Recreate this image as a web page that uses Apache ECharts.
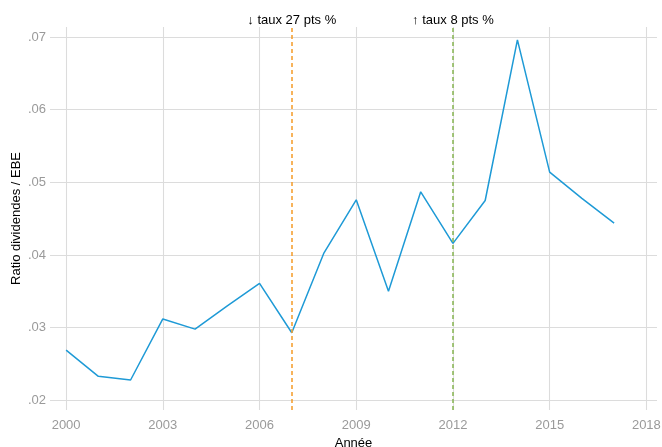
<!DOCTYPE html>
<html>
<head>
<meta charset="utf-8">
<script src="https://cdn.jsdelivr.net/npm/echarts@6/dist/echarts.min.js"></script>
<style>
html,body{margin:0;padding:0;background:#fff;}
#chart{width:662px;height:447px;}
</style>
</head>
<body>
<div id="chart"></div>
<script>
// données
var annees=[2000,2001,2002,2003,2004,2005,2006,2007,2008,2009,2010,2011,2012,2013,2014,2015,2016,2017];
var ratio=[0.0269,0.0233,0.0228,0.0312,0.0298,0.0330,0.0361,0.0293,0.0403,0.0476,0.0350,0.0487,0.0416,0.0475,0.0696,0.0514,0.0478,0.0444];
var xTicks=[2000,2003,2006,2009,2012,2015,2018];
var yTicks=[0.02,0.03,0.04,0.05,0.06,0.07];
var reformes=[2007,2012];
var reformesTxt=['↓ taux 27 pts %','↑ taux 8 pts %'];
var reformesCol=['#F5A133','#8DB85A'];

var font='"Liberation Sans", Arial, sans-serif';
var chart=echarts.init(document.getElementById('chart'));

var lignes=[];
for(var i=0;i<reformes.length;i++){
	lignes.push({
		xAxis:reformes[i],
		lineStyle:{color:reformesCol[i],type:[4,3],width:1.6},
		label:{formatter:reformesTxt[i]}
	});
}

var option={
	animation:false,
	grid:{left:50,right:5,top:27,bottom:37,containLabel:false,outerBoundsMode:'none'},
	xAxis:{
		type:'value',
		min:1999.5,
		max:2018.33,
		name:'Année',
		nameLocation:'middle',
		nameGap:22,
		nameTextStyle:{color:'#000',fontSize:13,fontFamily:font},
		axisLine:{show:false},
		axisTick:{show:false,customValues:xTicks},
		axisLabel:{customValues:xTicks,color:'#9a9a9a',fontSize:13,fontFamily:font,margin:9,
			formatter:function(v){return String(v);}},
		splitLine:{show:true,lineStyle:{color:'#dcdcdc',width:1.1}}
	},
	yAxis:{
		type:'value',
		min:0.01867,
		max:0.07138,
		name:'Ratio dividendes / EBE',
		nameLocation:'middle',
		nameGap:27,
		nameMoveOverlap:false,
		nameTextStyle:{color:'#000',fontSize:13,fontFamily:font},
		axisLine:{show:false},
		axisTick:{show:false,customValues:yTicks},
		axisLabel:{
			customValues:yTicks,color:'#9a9a9a',fontSize:13,fontFamily:font,margin:4,
			formatter:function(v){return v.toFixed(2).replace(/^0/,'');}
		},
		splitLine:{show:true,lineStyle:{color:'#dcdcdc',width:1.1}}
	},
	series:[{
		type:'line',
		data:annees.map(function(a,i){return [a,ratio[i]];}),
		showSymbol:false,
		lineStyle:{color:'#1E9AD6',width:1.5},
		markLine:{
			silent:true,
			symbol:['none','none'],
			label:{position:'end',color:'#000',fontSize:13,fontFamily:font,distance:0},
			data:lignes
		}
	}]
};
chart.setOption(option);
</script>
</body>
</html>
